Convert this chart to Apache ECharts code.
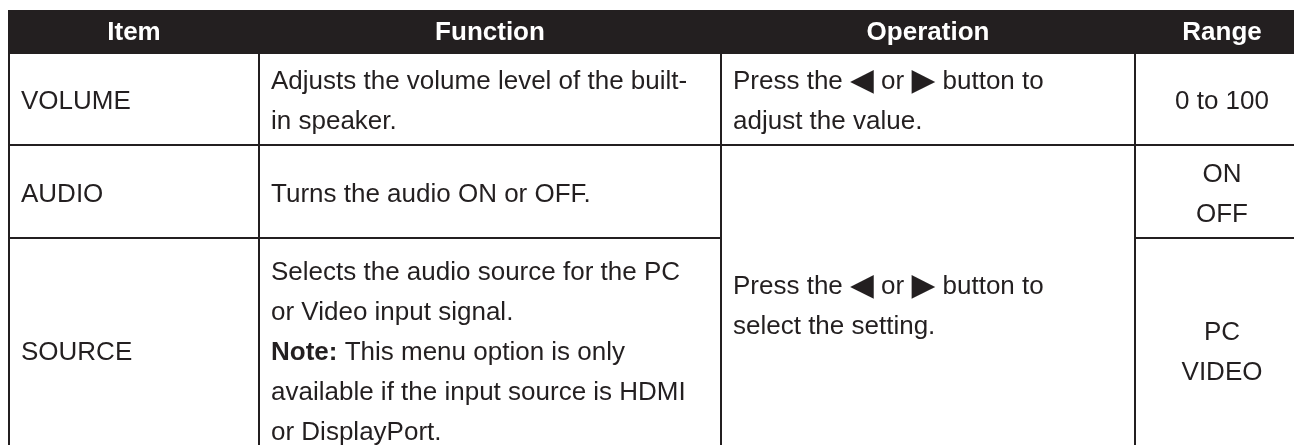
<!DOCTYPE html>
<html>
<head>
<meta charset="utf-8">
<script src="https://cdn.jsdelivr.net/npm/echarts@6/dist/echarts.min.js"></script>
<style>
html,body{margin:0;padding:0;background:#fff;}
#chart{width:1294px;height:445px;}
</style>
</head>
<body>
<div id="chart"></div>
<script>
// ---- table content (data) ----
const headers = ['Item', 'Function', 'Operation', 'Range'];
const items = ['VOLUME', 'AUDIO', 'SOURCE'];
const functions = [
  'Adjusts the volume level of the built-\nin speaker.',
  'Turns the audio ON or OFF.',
  'Selects the audio source for the PC\nor Video input signal.\n{b|Note:} This menu option is only\navailable if the input source is HDMI\nor DisplayPort.'
];
const operations = [
  'Press the {tri|◀} or {tri|▶} button to\nadjust the value.',
  'Press the {tri|◀} or {tri|▶} button to\nselect the setting.'
];
const operationRows = [[1, 1], [2, 3]];
const ranges = ['0 to 100', 'ON\nOFF', 'PC\nVIDEO'];

// ---- layout (not data) ----
const colEdges = [9, 259, 721, 1135, 1309];
const rowEdges = [11, 53, 145, 238, 462];
const ink = '#231f20';
const font = '"Liberation Sans", Arial, Helvetica, sans-serif';
const fs = 26;

// build cell list: [col, rowStart, rowEnd], with text/alignment kept alongside
const cells = [];
headers.forEach((h, c) => cells.push({v: [c, 0, 0], text: h, header: true, align: 'center'}));
items.forEach((t, r) => cells.push({v: [0, r + 1, r + 1], text: t, align: 'left'}));
functions.forEach((t, r) => cells.push({v: [1, r + 1, r + 1], text: t, align: 'left'}));
operations.forEach((t, i) => cells.push({v: [2, operationRows[i][0], operationRows[i][1]], text: t, align: 'left'}));
ranges.forEach((t, r) => cells.push({v: [3, r + 1, r + 1], text: t, align: 'center'}));

const chart = echarts.init(document.getElementById('chart'), null, {renderer: 'canvas'});

chart.setOption({
  animation: false,
  backgroundColor: '#fff',
  grid: {left: 0, right: 0, top: 0, bottom: 0},
  xAxis: {type: 'value', min: 0, max: 1294, show: false},
  yAxis: {type: 'value', min: 0, max: 445, inverse: true, show: false},
  series: [{
    type: 'custom',
    clip: false,
    data: cells.map(c => c.v),
    renderItem: function (params, api) {
      const cell = cells[params.dataIndex];
      const col = api.value(0), r0 = api.value(1), r1 = api.value(2);
      const p0 = api.coord([colEdges[col], rowEdges[r0]]);
      const p1 = api.coord([colEdges[col + 1], rowEdges[r1 + 1]]);
      const x = p0[0], y = p0[1], w = p1[0] - p0[0], h = p1[1] - p0[1];
      const tx = cell.align === 'center' ? x + w / 2 : x + 12;
      return {
        type: 'group',
        children: [
          {
            type: 'rect',
            shape: {x: x, y: y, width: w, height: h},
            style: {fill: cell.header ? ink : '#fff', stroke: ink, lineWidth: 2}
          },
          {
            type: 'text',
            style: {
              x: tx,
              y: y + h / 2 + (cell.header ? 1 : 3),
              text: cell.text,
              fill: cell.header ? '#fff' : ink,
              fontFamily: font,
              fontSize: fs,
              fontWeight: cell.header ? 'bold' : 'normal',
              lineHeight: 40,
              align: cell.align,
              verticalAlign: 'middle',
              rich: {
                b: {fontWeight: 'bold', fontSize: fs, fontFamily: font, fill: ink, lineHeight: 40},
                tri: {fontSize: 31, fontFamily: '"DejaVu Sans", sans-serif', fill: ink, lineHeight: 40}
              }
            }
          }
        ]
      };
    }
  }]
});
</script>
</body>
</html>
